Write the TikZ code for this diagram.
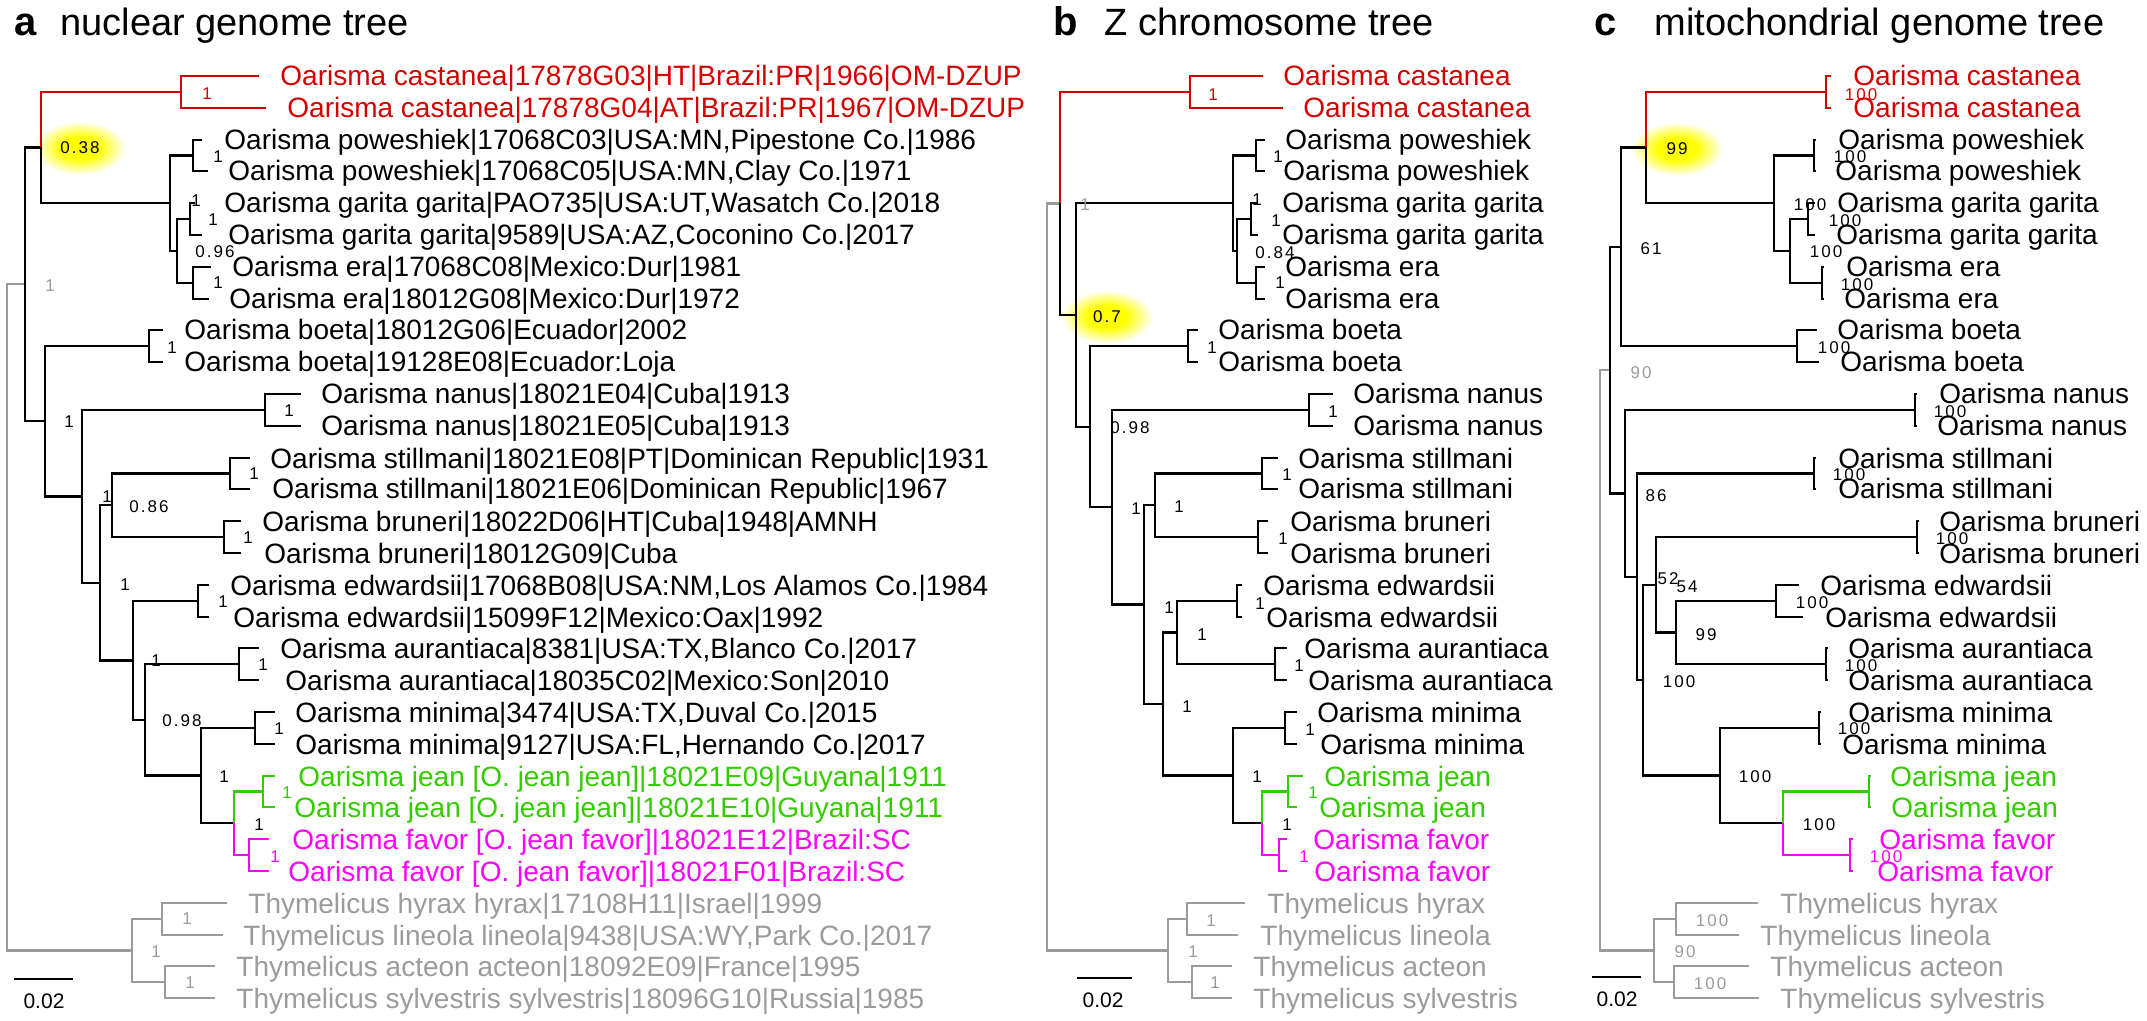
\documentclass[tikz,border=0pt]{standalone}
\usepackage{fontspec}
\setmainfont{Liberation Sans}
\newfontfamily\svfont[LetterSpace=12]{Liberation Sans}
\usepackage{tikz}
\definecolor{castRed}{RGB}{213,0,0}
\definecolor{jeanGreen}{RGB}{51,204,0}
\definecolor{favorMag}{RGB}{255,0,255}
\definecolor{outGray}{RGB}{155,155,155}
\pgfdeclareradialshading{supglow}{\pgfpoint{0bp}{0bp}}{color(0bp)=(yellow); color(10bp)=(yellow); color(24bp)=(white); color(50bp)=(white)}

\begin{document}
\begin{tikzpicture}[x=0.5pt,y=-0.5pt,
    br/.style={line width=1.1pt,black},
    brRed/.style={br,castRed},
    brGrn/.style={br,jeanGreen},
    brMag/.style={br,favorMag},
    brGry/.style={line width=1.1pt,outGray},
    tx/.style={font=\fontsize{14}{16}\selectfont,anchor=base west,inner sep=0pt},
    sv/.style={font=\svfont\fontsize{8.5}{10}\selectfont,inner sep=0pt},
    ttl/.style={font=\fontsize{19}{22}\selectfont,anchor=base west,inner sep=0pt},
    lttr/.style={font=\fontsize{20}{24}\selectfont\bfseries,anchor=base west,inner sep=0pt},
    scl/.style={font=\fontsize{10.5}{12}\selectfont,inner sep=0pt},
    glow/.style={shading=supglow}
  ]
  \useasboundingbox (0,0) rectangle (2147,1021);

  % ---------------- a: nuclear genome tree ----------------
  \node[lttr] (aLet) at (14,36) {a};
  \node[ttl] (aTtl) at (60,36) {nuclear genome tree};
  \shade[glow] (80,148) ellipse (48 and 28);

  \coordinate (aRoot) at (7,617);
  \coordinate (aIn) at (25,284);
  \coordinate (aCP) at (41,147.5);
  \coordinate (aPGE) at (170,203);
  \coordinate (aGE) at (177,251);
  \coordinate (aBN) at (45,421);
  \coordinate (aNR) at (82,496.5);
  \coordinate (aSR) at (100,583);
  \coordinate (aSB) at (112,505);
  \coordinate (aER) at (133,660.5);
  \coordinate (aAR) at (145,720);
  \coordinate (aMR) at (201,775.5);
  \coordinate (aJF) at (234,823);
  \coordinate (aOut) at (132,950.5);
  \coordinate (aCas) at (181,92);   \coordinate (aCas1) at (259,76);  \coordinate (aCas2) at (266,108);
  \coordinate (aPow) at (193,155.5); \coordinate (aPow1) at (202,140); \coordinate (aPow2) at (208,171);
  \coordinate (aGar) at (190,219);  \coordinate (aGar1) at (195,203); \coordinate (aGar2) at (202,235);
  \coordinate (aEra) at (193,283);  \coordinate (aEra1) at (211,267); \coordinate (aEra2) at (209,299);
  \coordinate (aBoe) at (149,346);  \coordinate (aBoe1) at (163,330); \coordinate (aBoe2) at (163,362);
  \coordinate (aNan) at (265,410);  \coordinate (aNan1) at (301,394); \coordinate (aNan2) at (301,426);
  \coordinate (aSti) at (230,473.5); \coordinate (aSti1) at (250,458); \coordinate (aSti2) at (250,489);
  \coordinate (aBru) at (224,537);  \coordinate (aBru1) at (241,521); \coordinate (aBru2) at (241,553);
  \coordinate (aEdw) at (198,601);  \coordinate (aEdw1) at (209,585); \coordinate (aEdw2) at (209,617);
  \coordinate (aAur) at (239,664);  \coordinate (aAur1) at (259,648); \coordinate (aAur2) at (259,680);
  \coordinate (aMin) at (255,728);  \coordinate (aMin1) at (275,712); \coordinate (aMin2) at (275,744);
  \coordinate (aJea) at (263,791.5); \coordinate (aJea1) at (275,776); \coordinate (aJea2) at (275,807);
  \coordinate (aFav) at (249,855);  \coordinate (aFav1) at (269,839); \coordinate (aFav2) at (269,871);
  \coordinate (aHL) at (162,919);   \coordinate (aHL1) at (227,903);  \coordinate (aHL2) at (223,935);
  \coordinate (aAS) at (165,982);   \coordinate (aAS1) at (215,966);  \coordinate (aAS2) at (215,998);

  \draw[brGry] (aIn) -| (aRoot) |- (aOut);
  \draw[br] (aCP) -| (aIn) |- (aBN);
  \draw[brRed] (aCas) -| (aCP);
  \draw[br] (aCP) |- (aPGE);
  \draw[brRed] (aCas1) -| (aCas) |- (aCas2);
  \draw[br] (aPow) -| (aPGE) |- (aGE);
  \draw[br] (aPow1) -| (aPow) |- (aPow2);
  \draw[br] (aGar) -| (aGE) |- (aEra);
  \draw[br] (aGar1) -| (aGar) |- (aGar2);
  \draw[br] (aEra1) -| (aEra) |- (aEra2);
  \draw[br] (aBoe) -| (aBN) |- (aNR);
  \draw[br] (aBoe1) -| (aBoe) |- (aBoe2);
  \draw[br] (aNan) -| (aNR) |- (aSR);
  \draw[br] (aNan1) -| (aNan) |- (aNan2);
  \draw[br] (aSB) -| (aSR) |- (aER);
  \draw[br] (aSti) -| (aSB) |- (aBru);
  \draw[br] (aSti1) -| (aSti) |- (aSti2);
  \draw[br] (aBru1) -| (aBru) |- (aBru2);
  \draw[br] (aEdw) -| (aER) |- (aAR);
  \draw[br] (aEdw1) -| (aEdw) |- (aEdw2);
  \draw[br] (aAur) -| (aAR) |- (aMR);
  \draw[br] (aAur1) -| (aAur) |- (aAur2);
  \draw[br] (aMin) -| (aMR) |- (aJF);
  \draw[br] (aMin1) -| (aMin) |- (aMin2);
  \draw[brGrn] (aJea) -| (aJF);
  \draw[brMag] (aJF) |- (aFav);
  \draw[brGrn] (aJea1) -| (aJea) |- (aJea2);
  \draw[brMag] (aFav1) -| (aFav) |- (aFav2);
  \draw[brGry] (aHL) -| (aOut) |- (aAS);
  \draw[brGry] (aHL1) -| (aHL) |- (aHL2);
  \draw[brGry] (aAS1) -| (aAS) |- (aAS2);

  \node[tx,text=castRed] (aT0) at (280,86) {Oarisma castanea|17878G03|HT|Brazil:PR|1966|OM-DZUP};
  \node[tx,text=castRed] (aT1) at (287,118) {Oarisma castanea|17878G04|AT|Brazil:PR|1967|OM-DZUP};
  \node[tx] (aT2) at (224,150) {Oarisma poweshiek|17068C03|USA:MN,Pipestone Co.|1986};
  \node[tx] (aT3) at (228,181) {Oarisma poweshiek|17068C05|USA:MN,Clay Co.|1971};
  \node[tx] (aT4) at (224,213) {Oarisma garita garita|PAO735|USA:UT,Wasatch Co.|2018};
  \node[tx] (aT5) at (228,245) {Oarisma garita garita|9589|USA:AZ,Coconino Co.|2017};
  \node[tx] (aT6) at (232,277) {Oarisma era|17068C08|Mexico:Dur|1981};
  \node[tx] (aT7) at (229,309) {Oarisma era|18012G08|Mexico:Dur|1972};
  \node[tx] (aT8) at (184,340) {Oarisma boeta|18012G06|Ecuador|2002};
  \node[tx] (aT9) at (184,372) {Oarisma boeta|19128E08|Ecuador:Loja};
  \node[tx] (aT10) at (321,404) {Oarisma nanus|18021E04|Cuba|1913};
  \node[tx] (aT11) at (321,436) {Oarisma nanus|18021E05|Cuba|1913};
  \node[tx] (aT12) at (270,468) {Oarisma stillmani|18021E08|PT|Dominican Republic|1931};
  \node[tx] (aT13) at (272,499) {Oarisma stillmani|18021E06|Dominican Republic|1967};
  \node[tx] (aT14) at (262,531) {Oarisma bruneri|18022D06|HT|Cuba|1948|AMNH};
  \node[tx] (aT15) at (264,563) {Oarisma bruneri|18012G09|Cuba};
  \node[tx] (aT16) at (230,595) {Oarisma edwardsii|17068B08|USA:NM,Los Alamos Co.|1984};
  \node[tx] (aT17) at (233,627) {Oarisma edwardsii|15099F12|Mexico:Oax|1992};
  \node[tx] (aT18) at (280,658) {Oarisma aurantiaca|8381|USA:TX,Blanco Co.|2017};
  \node[tx] (aT19) at (285,690) {Oarisma aurantiaca|18035C02|Mexico:Son|2010};
  \node[tx] (aT20) at (295,722) {Oarisma minima|3474|USA:TX,Duval Co.|2015};
  \node[tx] (aT21) at (295,754) {Oarisma minima|9127|USA:FL,Hernando Co.|2017};
  \node[tx,text=jeanGreen] (aT22) at (298,786) {Oarisma jean [O. jean jean]|18021E09|Guyana|1911};
  \node[tx,text=jeanGreen] (aT23) at (294,817) {Oarisma jean [O. jean jean]|18021E10|Guyana|1911};
  \node[tx,text=favorMag] (aT24) at (292,849) {Oarisma favor [O. jean favor]|18021E12|Brazil:SC};
  \node[tx,text=favorMag] (aT25) at (288,881) {Oarisma favor [O. jean favor]|18021F01|Brazil:SC};
  \node[tx,text=outGray] (aT26) at (248,913) {Thymelicus hyrax hyrax|17108H11|Israel|1999};
  \node[tx,text=outGray] (aT27) at (243,945) {Thymelicus lineola lineola|9438|USA:WY,Park Co.|2017};
  \node[tx,text=outGray] (aT28) at (236,976) {Thymelicus acteon acteon|18092E09|France|1995};
  \node[tx,text=outGray] (aT29) at (236,1008) {Thymelicus sylvestris sylvestris|18096G10|Russia|1985};

  \node[sv,text=outGray] (aS1) at (50,286) {1};
  \node[sv] (aS2) at (80,148) {0.38};
  \node[sv,text=castRed] (aS3) at (207,94) {1};
  \node[sv] (aS4) at (218,157) {1};
  \node[sv] (aS5) at (196,201) {1};
  \node[sv] (aS6) at (213,220) {1};
  \node[sv] (aS7) at (215,252) {0.96};
  \node[sv] (aS8) at (218,283) {1};
  \node[sv] (aS9) at (172,348) {1};
  \node[sv] (aS10) at (69,422) {1};
  \node[sv] (aS11) at (289,411) {1};
  \node[sv] (aS12) at (107,497) {1};
  \node[sv] (aS13) at (149,507) {0.86};
  \node[sv] (aS14) at (254,474) {1};
  \node[sv] (aS15) at (248,538) {1};
  \node[sv] (aS16) at (125,585) {1};
  \node[sv] (aS17) at (223,602) {1};
  \node[sv] (aS18) at (156,661) {1};
  \node[sv] (aS19) at (263,665) {1};
  \node[sv] (aS20) at (182,721) {0.98};
  \node[sv] (aS21) at (224,777) {1};
  \node[sv] (aS22) at (279,729) {1};
  \node[sv] (aS23) at (259,825) {1};
  \node[sv,text=jeanGreen] (aS24) at (287,793) {1};
  \node[sv,text=favorMag] (aS25) at (275,857) {1};
  \node[sv,text=outGray] (aS26) at (156,952) {1};
  \node[sv,text=outGray] (aS27) at (187,919) {1};
  \node[sv,text=outGray] (aS28) at (190,983) {1};

  \coordinate (aSc1) at (14,979); \coordinate (aSc2) at (73,979);
  \draw[br] (aSc1) -- (aSc2);
  \node[scl] (aScL) at (44,1001) {0.02};

  % ---------------- b: Z chromosome tree ----------------
  \node[lttr] (bLet) at (1053,36) {b};
  \node[ttl] (bTtl) at (1104,36) {Z chromosome tree};
  \shade[glow] (1107,317) ellipse (48 and 28);

  \coordinate (bRoot) at (1047,577);
  \coordinate (bIn) at (1060,203.5);
  \coordinate (bA) at (1076,315);
  \coordinate (bB) at (1090,427);
  \coordinate (bC) at (1112,507);
  \coordinate (bD) at (1144,604.5);
  \coordinate (bSB) at (1155,505);
  \coordinate (bF) at (1163,704);
  \coordinate (bEA) at (1177,632.5);
  \coordinate (bMJ) at (1233,775.5);
  \coordinate (bJF) at (1262,823);
  \coordinate (bPGE) at (1233,203);
  \coordinate (bGE) at (1237,251);
  \coordinate (bOut) at (1168,950.5);
  \coordinate (bCas) at (1190,92);   \coordinate (bCas1) at (1263,76);  \coordinate (bCas2) at (1283,108);
  \coordinate (bPow) at (1256,155.5); \coordinate (bPow1) at (1265,140); \coordinate (bPow2) at (1265,171);
  \coordinate (bGar) at (1251,219);  \coordinate (bGar1) at (1258,203); \coordinate (bGar2) at (1258,235);
  \coordinate (bEra) at (1256,283);  \coordinate (bEra1) at (1265,267); \coordinate (bEra2) at (1265,299);
  \coordinate (bBoe) at (1188,346);  \coordinate (bBoe1) at (1198,330); \coordinate (bBoe2) at (1198,362);
  \coordinate (bNan) at (1309,410);  \coordinate (bNan1) at (1333,394); \coordinate (bNan2) at (1333,426);
  \coordinate (bSti) at (1262,473.5); \coordinate (bSti1) at (1278,458); \coordinate (bSti2) at (1278,489);
  \coordinate (bBru) at (1258,537);  \coordinate (bBru1) at (1268,521); \coordinate (bBru2) at (1268,553);
  \coordinate (bEdw) at (1237,601);  \coordinate (bEdw1) at (1242,585); \coordinate (bEdw2) at (1242,617);
  \coordinate (bAur) at (1275,664);  \coordinate (bAur1) at (1287,648); \coordinate (bAur2) at (1287,680);
  \coordinate (bMin) at (1285,728);  \coordinate (bMin1) at (1297,712); \coordinate (bMin2) at (1297,744);
  \coordinate (bJea) at (1288,791.5); \coordinate (bJea1) at (1303,776); \coordinate (bJea2) at (1297,807);
  \coordinate (bFav) at (1279,855);  \coordinate (bFav1) at (1287,839); \coordinate (bFav2) at (1287,871);
  \coordinate (bHL) at (1187,919);   \coordinate (bHL1) at (1245,903);  \coordinate (bHL2) at (1238,935);
  \coordinate (bAS) at (1192,982);   \coordinate (bAS1) at (1232,966);  \coordinate (bAS2) at (1232,998);

  \draw[brGry] (bIn) -| (bRoot) |- (bOut);
  \draw[brRed] (bCas) -| (bIn);
  \draw[br] (bIn) |- (bA);
  \draw[brRed] (bCas1) -| (bCas) |- (bCas2);
  \draw[br] (bPGE) -| (bA) |- (bB);
  \draw[br] (bPow) -| (bPGE) |- (bGE);
  \draw[br] (bPow1) -| (bPow) |- (bPow2);
  \draw[br] (bGar) -| (bGE) |- (bEra);
  \draw[br] (bGar1) -| (bGar) |- (bGar2);
  \draw[br] (bEra1) -| (bEra) |- (bEra2);
  \draw[br] (bBoe) -| (bB) |- (bC);
  \draw[br] (bBoe1) -| (bBoe) |- (bBoe2);
  \draw[br] (bNan) -| (bC) |- (bD);
  \draw[br] (bNan1) -| (bNan) |- (bNan2);
  \draw[br] (bSB) -| (bD) |- (bF);
  \draw[br] (bSti) -| (bSB) |- (bBru);
  \draw[br] (bSti1) -| (bSti) |- (bSti2);
  \draw[br] (bBru1) -| (bBru) |- (bBru2);
  \draw[br] (bEA) -| (bF) |- (bMJ);
  \draw[br] (bEdw) -| (bEA) |- (bAur);
  \draw[br] (bEdw1) -| (bEdw) |- (bEdw2);
  \draw[br] (bAur1) -| (bAur) |- (bAur2);
  \draw[br] (bMin) -| (bMJ) |- (bJF);
  \draw[br] (bMin1) -| (bMin) |- (bMin2);
  \draw[brGrn] (bJea) -| (bJF);
  \draw[brMag] (bJF) |- (bFav);
  \draw[brGrn] (bJea1) -| (bJea) |- (bJea2);
  \draw[brMag] (bFav1) -| (bFav) |- (bFav2);
  \draw[brGry] (bHL) -| (bOut) |- (bAS);
  \draw[brGry] (bHL1) -| (bHL) |- (bHL2);
  \draw[brGry] (bAS1) -| (bAS) |- (bAS2);

  \node[tx,text=castRed] (bT0) at (1283,86) {Oarisma castanea};
  \node[tx,text=castRed] (bT1) at (1303,118) {Oarisma castanea};
  \node[tx] (bT2) at (1285,150) {Oarisma poweshiek};
  \node[tx] (bT3) at (1283,181) {Oarisma poweshiek};
  \node[tx] (bT4) at (1282,213) {Oarisma garita garita};
  \node[tx] (bT5) at (1282,245) {Oarisma garita garita};
  \node[tx] (bT6) at (1285,277) {Oarisma era};
  \node[tx] (bT7) at (1285,309) {Oarisma era};
  \node[tx] (bT8) at (1218,340) {Oarisma boeta};
  \node[tx] (bT9) at (1218,372) {Oarisma boeta};
  \node[tx] (bT10) at (1353,404) {Oarisma nanus};
  \node[tx] (bT11) at (1353,436) {Oarisma nanus};
  \node[tx] (bT12) at (1298,468) {Oarisma stillmani};
  \node[tx] (bT13) at (1298,499) {Oarisma stillmani};
  \node[tx] (bT14) at (1290,531) {Oarisma bruneri};
  \node[tx] (bT15) at (1290,563) {Oarisma bruneri};
  \node[tx] (bT16) at (1263,595) {Oarisma edwardsii};
  \node[tx] (bT17) at (1266,627) {Oarisma edwardsii};
  \node[tx] (bT18) at (1304,658) {Oarisma aurantiaca};
  \node[tx] (bT19) at (1308,690) {Oarisma aurantiaca};
  \node[tx] (bT20) at (1317,722) {Oarisma minima};
  \node[tx] (bT21) at (1320,754) {Oarisma minima};
  \node[tx,text=jeanGreen] (bT22) at (1324,786) {Oarisma jean};
  \node[tx,text=jeanGreen] (bT23) at (1319,817) {Oarisma jean};
  \node[tx,text=favorMag] (bT24) at (1313,849) {Oarisma favor};
  \node[tx,text=favorMag] (bT25) at (1314,881) {Oarisma favor};
  \node[tx,text=outGray] (bT26) at (1267,913) {Thymelicus hyrax};
  \node[tx,text=outGray] (bT27) at (1260,945) {Thymelicus lineola};
  \node[tx,text=outGray] (bT28) at (1253,976) {Thymelicus acteon};
  \node[tx,text=outGray] (bT29) at (1253,1008) {Thymelicus sylvestris};

  \node[sv,text=outGray] (bS1) at (1085,205) {1};
  \node[sv,text=castRed] (bS2) at (1213,95) {1};
  \node[sv] (bS3) at (1278,157) {1};
  \node[sv] (bS4) at (1257,200) {1};
  \node[sv] (bS5) at (1276,221) {1};
  \node[sv] (bS6) at (1275,253) {0.84};
  \node[sv] (bS7) at (1280,283) {1};
  \node[sv] (bS8) at (1107,317) {0.7};
  \node[sv] (bS9) at (1212,348) {1};
  \node[sv] (bS10) at (1130,428) {0.98};
  \node[sv] (bS11) at (1333,412) {1};
  \node[sv] (bS12) at (1136,509) {1};
  \node[sv] (bS13) at (1179,507) {1};
  \node[sv] (bS14) at (1287,475) {1};
  \node[sv] (bS15) at (1283,539) {1};
  \node[sv] (bS16) at (1169,608) {1};
  \node[sv] (bS17) at (1260,604) {1};
  \node[sv] (bS18) at (1202,635) {1};
  \node[sv] (bS19) at (1299,666) {1};
  \node[sv] (bS20) at (1187,707) {1};
  \node[sv] (bS21) at (1310,730) {1};
  \node[sv] (bS22) at (1257,777) {1};
  \node[sv,text=jeanGreen] (bS23) at (1313,793) {1};
  \node[sv] (bS24) at (1287,825) {1};
  \node[sv,text=favorMag] (bS25) at (1304,857) {1};
  \node[sv,text=outGray] (bS26) at (1193,952) {1};
  \node[sv,text=outGray] (bS27) at (1211,921) {1};
  \node[sv,text=outGray] (bS28) at (1215,983) {1};

  \coordinate (bSc1) at (1077,978); \coordinate (bSc2) at (1132,978);
  \draw[br] (bSc1) -- (bSc2);
  \node[scl] (bScL) at (1103,1000) {0.02};

  % ---------------- c: mitochondrial genome tree ----------------
  \node[lttr] (cLet) at (1594,36) {c};
  \node[ttl] (cTtl) at (1654,36) {mitochondrial genome tree};
  \shade[glow] (1677,149) ellipse (48 and 28);

  \coordinate (cRoot) at (1600,660);
  \coordinate (cIn) at (1610,370);
  \coordinate (cJ) at (1621,247);
  \coordinate (cK) at (1646,147.5);
  \coordinate (cL) at (1774,203);
  \coordinate (cM) at (1790,251);
  \coordinate (cN) at (1625,493.5);
  \coordinate (cO) at (1637,577);
  \coordinate (cP) at (1643,680);
  \coordinate (cQ) at (1656,584.75);
  \coordinate (cR) at (1676,632.5);
  \coordinate (cS) at (1720,775.5);
  \coordinate (cT) at (1783,823);
  \coordinate (cOut) at (1654,950.5);
  \coordinate (cCas) at (1826,92);   \coordinate (cCas1) at (1831,76);  \coordinate (cCas2) at (1831,108);
  \coordinate (cPow) at (1814,155.5); \coordinate (cPow1) at (1816,140); \coordinate (cPow2) at (1816,171);
  \coordinate (cGar) at (1808,219);  \coordinate (cGar1) at (1815,203); \coordinate (cGar2) at (1815,235);
  \coordinate (cEra) at (1822,283);  \coordinate (cEra1) at (1824,267); \coordinate (cEra2) at (1824,299);
  \coordinate (cBoe) at (1797,346);  \coordinate (cBoe1) at (1817,330); \coordinate (cBoe2) at (1819,362);
  \coordinate (cNan) at (1915,410);  \coordinate (cNan1) at (1917,394); \coordinate (cNan2) at (1917,426);
  \coordinate (cSti) at (1814,473.5); \coordinate (cSti1) at (1816,458); \coordinate (cSti2) at (1816,489);
  \coordinate (cBru) at (1917,537);  \coordinate (cBru1) at (1919,521); \coordinate (cBru2) at (1919,553);
  \coordinate (cEdw) at (1776,601);  \coordinate (cEdw1) at (1799,585); \coordinate (cEdw2) at (1803,617);
  \coordinate (cAur) at (1826,664);  \coordinate (cAur1) at (1828,648); \coordinate (cAur2) at (1828,680);
  \coordinate (cMin) at (1819,728);  \coordinate (cMin1) at (1821,712); \coordinate (cMin2) at (1821,744);
  \coordinate (cJea) at (1869,791.5); \coordinate (cJea1) at (1871,776); \coordinate (cJea2) at (1871,807);
  \coordinate (cFav) at (1850,855);  \coordinate (cFav1) at (1853,839); \coordinate (cFav2) at (1853,871);
  \coordinate (cHL) at (1676,919);   \coordinate (cHL1) at (1758,903);  \coordinate (cHL2) at (1739,935);
  \coordinate (cAS) at (1674,982);   \coordinate (cAS1) at (1749,966);  \coordinate (cAS2) at (1759,998);

  \draw[brGry] (cIn) -| (cRoot) |- (cOut);
  \draw[br] (cJ) -| (cIn) |- (cN);
  \draw[br] (cK) -| (cJ) |- (cBoe);
  \draw[brRed] (cCas) -| (cK);
  \draw[br] (cK) |- (cL);
  \draw[brRed] (cCas1) -| (cCas) |- (cCas2);
  \draw[br] (cPow) -| (cL) |- (cM);
  \draw[br] (cPow1) -| (cPow) |- (cPow2);
  \draw[br] (cGar) -| (cM) |- (cEra);
  \draw[br] (cGar1) -| (cGar) |- (cGar2);
  \draw[br] (cEra1) -| (cEra) |- (cEra2);
  \draw[br] (cBoe1) -| (cBoe) |- (cBoe2);
  \draw[br] (cNan) -| (cN) |- (cO);
  \draw[br] (cNan1) -| (cNan) |- (cNan2);
  \draw[br] (cSti) -| (cO) |- (cP);
  \draw[br] (cSti1) -| (cSti) |- (cSti2);
  \draw[br] (cQ) -| (cP) |- (cS);
  \draw[br] (cBru) -| (cQ) |- (cR);
  \draw[br] (cBru1) -| (cBru) |- (cBru2);
  \draw[br] (cEdw) -| (cR) |- (cAur);
  \draw[br] (cEdw1) -| (cEdw) |- (cEdw2);
  \draw[br] (cAur1) -| (cAur) |- (cAur2);
  \draw[br] (cMin) -| (cS) |- (cT);
  \draw[br] (cMin1) -| (cMin) |- (cMin2);
  \draw[brGrn] (cJea) -| (cT);
  \draw[brMag] (cT) |- (cFav);
  \draw[brGrn] (cJea1) -| (cJea) |- (cJea2);
  \draw[brMag] (cFav1) -| (cFav) |- (cFav2);
  \draw[brGry] (cHL) -| (cOut) |- (cAS);
  \draw[brGry] (cHL1) -| (cHL) |- (cHL2);
  \draw[brGry] (cAS1) -| (cAS) |- (cAS2);

  \node[tx,text=castRed] (cT0) at (1853,86) {Oarisma castanea};
  \node[tx,text=castRed] (cT1) at (1853,118) {Oarisma castanea};
  \node[tx] (cT2) at (1838,150) {Oarisma poweshiek};
  \node[tx] (cT3) at (1835,181) {Oarisma poweshiek};
  \node[tx] (cT4) at (1837,213) {Oarisma garita garita};
  \node[tx] (cT5) at (1836,245) {Oarisma garita garita};
  \node[tx] (cT6) at (1846,277) {Oarisma era};
  \node[tx] (cT7) at (1844,309) {Oarisma era};
  \node[tx] (cT8) at (1837,340) {Oarisma boeta};
  \node[tx] (cT9) at (1840,372) {Oarisma boeta};
  \node[tx] (cT10) at (1939,404) {Oarisma nanus};
  \node[tx] (cT11) at (1937,436) {Oarisma nanus};
  \node[tx] (cT12) at (1838,468) {Oarisma stillmani};
  \node[tx] (cT13) at (1838,499) {Oarisma stillmani};
  \node[tx] (cT14) at (1939,531) {Oarisma bruneri};
  \node[tx] (cT15) at (1939,563) {Oarisma bruneri};
  \node[tx] (cT16) at (1820,595) {Oarisma edwardsii};
  \node[tx] (cT17) at (1825,627) {Oarisma edwardsii};
  \node[tx] (cT18) at (1848,658) {Oarisma aurantiaca};
  \node[tx] (cT19) at (1848,690) {Oarisma aurantiaca};
  \node[tx] (cT20) at (1848,722) {Oarisma minima};
  \node[tx] (cT21) at (1842,754) {Oarisma minima};
  \node[tx,text=jeanGreen] (cT22) at (1890,786) {Oarisma jean};
  \node[tx,text=jeanGreen] (cT23) at (1891,817) {Oarisma jean};
  \node[tx,text=favorMag] (cT24) at (1879,849) {Oarisma favor};
  \node[tx,text=favorMag] (cT25) at (1877,881) {Oarisma favor};
  \node[tx,text=outGray] (cT26) at (1780,913) {Thymelicus hyrax};
  \node[tx,text=outGray] (cT27) at (1760,945) {Thymelicus lineola};
  \node[tx,text=outGray] (cT28) at (1770,976) {Thymelicus acteon};
  \node[tx,text=outGray] (cT29) at (1780,1008) {Thymelicus sylvestris};

  \node[sv,text=castRed] (cS1) at (1861,95) {100};
  \node[sv] (cS2) at (1677,149) {99};
  \node[sv] (cS3) at (1850,157) {100};
  \node[sv] (cS4) at (1810,205) {100};
  \node[sv] (cS5) at (1845,221) {100};
  \node[sv] (cS6) at (1651,249) {61};
  \node[sv] (cS7) at (1826,252) {100};
  \node[sv] (cS8) at (1857,285) {100};
  \node[sv] (cS9) at (1834,348) {100};
  \node[sv,text=outGray] (cS10) at (1641,373) {90};
  \node[sv] (cS11) at (1950,412) {100};
  \node[sv] (cS12) at (1849,475) {100};
  \node[sv] (cS13) at (1656,496) {86};
  \node[sv] (cS14) at (1952,539) {100};
  \node[sv] (cS15) at (1668,579) {52};
  \node[sv] (cS16) at (1687,587) {54};
  \node[sv] (cS17) at (1812,603) {100};
  \node[sv] (cS18) at (1706,635) {99};
  \node[sv] (cS19) at (1861,666) {100};
  \node[sv] (cS20) at (1679,682) {100};
  \node[sv] (cS21) at (1854,729) {100};
  \node[sv] (cS22) at (1755,777) {100};
  \node[sv] (cS23) at (1819,825) {100};
  \node[sv,text=favorMag] (cS24) at (1886,857) {100};
  \node[sv,text=outGray] (cS25) at (1712,921) {100};
  \node[sv,text=outGray] (cS26) at (1685,952) {90};
  \node[sv,text=outGray] (cS27) at (1710,984) {100};

  \coordinate (cSc1) at (1592,977); \coordinate (cSc2) at (1641,977);
  \draw[br] (cSc1) -- (cSc2);
  \node[scl] (cScL) at (1617,999) {0.02};
\end{tikzpicture}
\end{document}
